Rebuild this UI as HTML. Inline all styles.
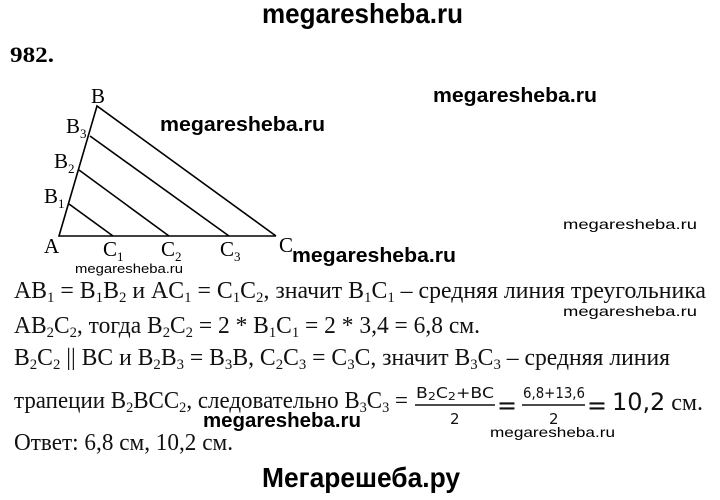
<!DOCTYPE html>
<html><head><meta charset="utf-8"><style>
html,body{margin:0;padding:0;background:#fff;width:720px;height:500px;overflow:hidden}
svg{display:block}
.t{font-family:"Liberation Serif",serif;font-size:24px;fill:#111}
.w{font-family:"Liberation Sans",sans-serif;font-weight:bold;fill:#000}
.s{font-family:"Liberation Sans",sans-serif;fill:#000}
.m{font-family:"DejaVu Sans","Liberation Sans",sans-serif;fill:#111}
</style></head><body>
<svg width="720" height="500" viewBox="0 0 720 500" xmlns="http://www.w3.org/2000/svg">
<text class="w" x="262" y="23" font-size="28" textLength="201" lengthAdjust="spacingAndGlyphs">megaresheba.ru</text>
<text x="10" y="62" font-family="Liberation Serif,serif" font-weight="bold" font-size="22" textLength="44" lengthAdjust="spacingAndGlyphs">982.</text>

<g stroke="#000" stroke-width="1.6" fill="none">
<polyline points="276,236 59,236 97,106 276,236"/>
<line x1="69" y1="204" x2="113" y2="236"/>
<line x1="79" y1="170" x2="169" y2="236"/>
<line x1="90" y1="136" x2="229" y2="236"/>
</g>
<g font-family="Liberation Serif,serif" font-size="21" fill="#000">
<text x="91" y="103">B</text>
<text x="66" y="133">B<tspan font-size="13" dy="5">3</tspan></text>
<text x="54" y="168">B<tspan font-size="13" dy="5">2</tspan></text>
<text x="44" y="203">B<tspan font-size="13" dy="5">1</tspan></text>
<text x="44" y="253">A</text>
<text x="103" y="256">C<tspan font-size="13" dy="5">1</tspan></text>
<text x="161" y="256">C<tspan font-size="13" dy="5">2</tspan></text>
<text x="220" y="256">C<tspan font-size="13" dy="5">3</tspan></text>
<text x="279" y="252">C</text>
</g>

<text class="w" x="433" y="102" font-size="20" textLength="164" lengthAdjust="spacingAndGlyphs">megaresheba.ru</text>
<text class="w" x="160" y="131" font-size="20" textLength="165" lengthAdjust="spacingAndGlyphs">megaresheba.ru</text>
<text class="s" x="563" y="229" font-size="14" textLength="134" lengthAdjust="spacingAndGlyphs">megaresheba.ru</text>
<text class="w" x="292" y="262" font-size="20" textLength="164" lengthAdjust="spacingAndGlyphs">megaresheba.ru</text>
<text class="s" x="75" y="273" font-size="13" textLength="108" lengthAdjust="spacingAndGlyphs">megaresheba.ru</text>

<text class="t" x="14" y="298" textLength="692" lengthAdjust="spacingAndGlyphs">AB<tspan font-size="15" dy="4">1</tspan><tspan dy="-4"> = B</tspan><tspan font-size="15" dy="4">1</tspan><tspan dy="-4">B</tspan><tspan font-size="15" dy="4">2</tspan><tspan dy="-4"> и AC</tspan><tspan font-size="15" dy="4">1</tspan><tspan dy="-4"> = C</tspan><tspan font-size="15" dy="4">1</tspan><tspan dy="-4">C</tspan><tspan font-size="15" dy="4">2</tspan><tspan dy="-4">, значит B</tspan><tspan font-size="15" dy="4">1</tspan><tspan dy="-4">C</tspan><tspan font-size="15" dy="4">1</tspan><tspan dy="-4"> – средняя линия треугольника</tspan></text>
<text class="s" x="563" y="316" font-size="14" textLength="134" lengthAdjust="spacingAndGlyphs">megaresheba.ru</text>
<text class="t" x="14" y="333" textLength="466" lengthAdjust="spacingAndGlyphs">AB<tspan font-size="15" dy="4">2</tspan><tspan dy="-4">C</tspan><tspan font-size="15" dy="4">2</tspan><tspan dy="-4">, тогда B</tspan><tspan font-size="15" dy="4">2</tspan><tspan dy="-4">C</tspan><tspan font-size="15" dy="4">2</tspan><tspan dy="-4"> = 2 * B</tspan><tspan font-size="15" dy="4">1</tspan><tspan dy="-4">C</tspan><tspan font-size="15" dy="4">1</tspan><tspan dy="-4"> = 2 * 3,4 = 6,8 см.</tspan></text>
<text class="t" x="14" y="365" textLength="656" lengthAdjust="spacingAndGlyphs">B<tspan font-size="15" dy="4">2</tspan><tspan dy="-4">C</tspan><tspan font-size="15" dy="4">2</tspan><tspan dy="-4"> || BC и B</tspan><tspan font-size="15" dy="4">2</tspan><tspan dy="-4">B</tspan><tspan font-size="15" dy="4">3</tspan><tspan dy="-4"> = B</tspan><tspan font-size="15" dy="4">3</tspan><tspan dy="-4">B, C</tspan><tspan font-size="15" dy="4">2</tspan><tspan dy="-4">C</tspan><tspan font-size="15" dy="4">3</tspan><tspan dy="-4"> = C</tspan><tspan font-size="15" dy="4">3</tspan><tspan dy="-4">C, значит B</tspan><tspan font-size="15" dy="4">3</tspan><tspan dy="-4">C</tspan><tspan font-size="15" dy="4">3</tspan><tspan dy="-4"> – средняя линия</tspan></text>
<text class="t" x="14" y="408" textLength="394" lengthAdjust="spacingAndGlyphs">трапеции B<tspan font-size="15" dy="4">2</tspan><tspan dy="-4">BCC</tspan><tspan font-size="15" dy="4">2</tspan><tspan dy="-4">, следовательно B</tspan><tspan font-size="15" dy="4">3</tspan><tspan dy="-4">C</tspan><tspan font-size="15" dy="4">3</tspan><tspan dy="-4"> =</tspan></text>

<text class="m" x="416" y="398" font-size="15" textLength="78" lengthAdjust="spacingAndGlyphs">B<tspan font-size="11" dy="2">2</tspan><tspan dy="-2">C</tspan><tspan font-size="11" dy="2">2</tspan><tspan dy="-2">+BC</tspan></text>
<line x1="415" y1="405" x2="495" y2="405" stroke="#111" stroke-width="1.4"/>
<text class="m" x="450" y="424" font-size="15">2</text>
<text class="m" x="497" y="414" font-size="26" textLength="20" lengthAdjust="spacingAndGlyphs">=</text>
<text class="m" x="523" y="398" font-size="15" textLength="62" lengthAdjust="spacingAndGlyphs">6,8+13,6</text>
<line x1="522" y1="405" x2="585" y2="405" stroke="#111" stroke-width="1.4"/>
<text class="m" x="549" y="424" font-size="15">2</text>
<text class="m" x="587" y="414" font-size="26" textLength="20" lengthAdjust="spacingAndGlyphs">=</text>
<text class="t" x="612" y="410" font-size="26" textLength="91" lengthAdjust="spacingAndGlyphs"><tspan font-family="DejaVu Sans,sans-serif" font-size="24">10,2</tspan> см.</text>

<text class="w" x="203" y="427" font-size="20" textLength="158" lengthAdjust="spacingAndGlyphs">megaresheba.ru</text>
<text class="s" x="490" y="437" font-size="14" textLength="125" lengthAdjust="spacingAndGlyphs">megaresheba.ru</text>
<text class="t" x="14" y="450" textLength="219" lengthAdjust="spacingAndGlyphs">Ответ: 6,8 см, 10,2 см.</text>

<text class="w" x="262" y="487" font-size="28" textLength="198" lengthAdjust="spacingAndGlyphs">Мегарешеба.ру</text>
</svg>
</body></html>
